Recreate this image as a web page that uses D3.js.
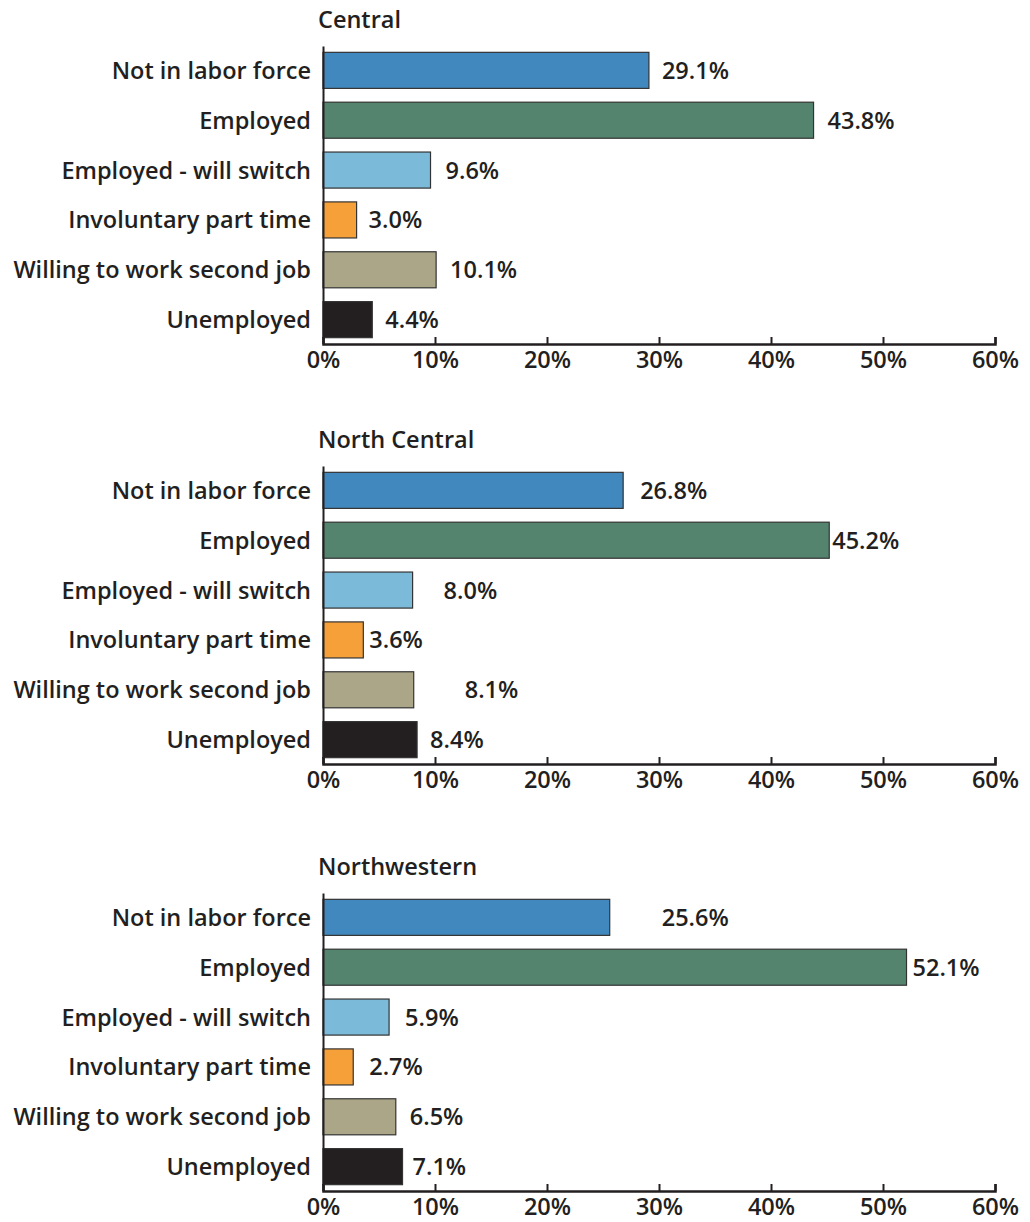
<!DOCTYPE html>
<head>
    <style>
        body {
            margin: 0;
            background: #fff;
        }
        text {
            font-family: "Open Sans", "Liberation Sans", Arial, sans-serif;
            font-weight: 600;
            fill: #231f20;
        }
    </style>
</head>
<body>
    <script src="https://d3js.org/d3.v7.min.js"></script>

    <script>
        const width = 1030;
        const height = 1222;

        // data
        const categories = ["Not in labor force", "Employed", "Employed - will switch",
            "Involuntary part time", "Willing to work second job", "Unemployed"];
        const regions = ["Central", "North Central", "Northwestern"];
        const central = [29.1, 43.8, 9.6, 3.0, 10.1, 4.4];
        const northCentral = [26.8, 45.2, 8.0, 3.6, 8.1, 8.4];
        const northwestern = [25.6, 52.1, 5.9, 2.7, 6.5, 7.1];
        const tickValues = [0, 10, 20, 30, 40, 50, 60];

        // styling / layout
        const barColors = ["#4088bd", "#54836e", "#7bbad8", "#f6a03a", "#aba688", "#231f20"];
        const axisY = [344, 764, 1191];   // bottom axis of every panel
        const labelGap = [                  // distance of value label from bar end
            [13, 14, 15, 12, 14, 13],
            [17, 3, 31, 6, 51, 13],
            [52, 6, 16, 16, 14, 10]
        ];
        const fontSize = 23.5;

        const svg = d3.select("body").append("svg")
            .attr("width", width)
            .attr("height", height);

        const x = d3.scaleLinear().domain([0, 60]).range([323, 995]);

        function panel(name, values, i) {
            const y1 = axisY[i];
            const y0 = y1 - 298;
            const y = d3.scaleBand()
                .domain(categories)
                .range([y0, y1])
                .paddingInner(0.277)
                .paddingOuter(0.127);

            const g = svg.append("g");

            // title
            g.append("text")
                .attr("x", 318)
                .attr("y", y0 - 18)
                .attr("font-size", fontSize)
                .text(name);

            // bars
            g.selectAll("rect").data(values).enter().append("rect")
                .attr("x", x(0))
                .attr("y", (d, k) => y(categories[k]))
                .attr("width", d => x(d) - x(0))
                .attr("height", y.bandwidth())
                .attr("fill", (d, k) => barColors[k])
                .attr("stroke", "#333")
                .attr("stroke-width", 1.2);

            // value labels
            g.selectAll("text.val").data(values).enter().append("text")
                .attr("class", "val")
                .attr("x", (d, k) => x(d) + labelGap[i][k])
                .attr("y", (d, k) => y(categories[k]) + y.bandwidth() / 2)
                .attr("dy", "0.36em")
                .attr("font-size", fontSize)
                .text(d => d.toFixed(1) + "%");

            // left axis with category names
            const left = g.append("g")
                .attr("transform", `translate(${x(0)},0)`)
                .call(d3.axisLeft(y).tickSize(0).tickPadding(12));
            left.select(".domain").attr("stroke", "#231f20").attr("stroke-width", 2);
            left.selectAll("text")
                .attr("font-size", fontSize)
                .attr("fill", "#231f20")
                .attr("dy", "0.36em");

            // bottom axis
            const bottom = g.append("g")
                .attr("transform", `translate(0,${y1})`)
                .call(d3.axisBottom(x)
                    .tickValues(tickValues)
                    .tickSize(-7)
                    .tickPadding(7)
                    .tickFormat(d => d + "%"));
            bottom.select(".domain").attr("stroke", "#231f20").attr("stroke-width", 2.5);
            bottom.selectAll(".tick line").attr("stroke", "#231f20").attr("stroke-width", 2);
            bottom.selectAll("text")
                .attr("font-size", fontSize)
                .attr("fill", "#231f20");
            bottom.attr("font-family", null);
            left.attr("font-family", null);
        }

        panel(regions[0], central, 0);
        panel(regions[1], northCentral, 1);
        panel(regions[2], northwestern, 2);
    </script>
</body>
</html>
